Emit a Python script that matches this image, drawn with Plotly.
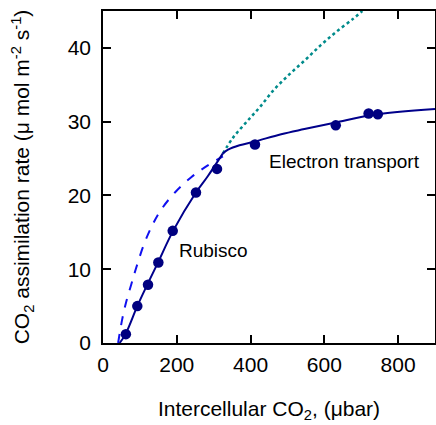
import plotly.graph_objects as go

# Measured data points
ci_obs = [62, 93, 122, 150, 189, 252, 309, 412, 631, 720, 745]
a_obs = [1.2, 5.0, 7.9, 10.9, 15.2, 20.4, 23.6, 26.9, 29.5, 31.1, 31.0]

# Solid fitted curve, Rubisco-limited part
ci_rub = [45, 60, 93, 120, 149, 190, 252, 284, 325]
a_rub = [0.0, 1.1, 5.0, 7.9, 10.9, 15.2, 20.4, 22.6, 25.7]

# Solid fitted curve, electron-transport-limited part
ci_et = [325, 339, 370, 411, 483, 546, 631, 731, 900]
a_et = [25.7, 26.2, 26.8, 27.3, 28.3, 29.0, 29.9, 30.9, 31.7]

# Dashed: electron-transport curve extended below transition
ci_j = [41, 52, 63, 77, 90, 112, 135, 158, 195, 240, 282, 325]
a_j = [0.0, 3.2, 5.6, 8.0, 10.2, 13.5, 16.1, 18.1, 20.4, 22.5, 24.0, 25.3]

# Dotted: Rubisco curve extended above transition
ci_c = [325, 352, 388, 424, 463, 505, 549, 591, 633, 677, 703]
a_c = [25.7, 27.8, 29.9, 31.9, 34.3, 36.4, 38.4, 40.4, 42.2, 43.9, 45.0]

x_ticks = [0, 200, 400, 600, 800]
y_ticks = [0, 10, 20, 30, 40]

FONT = "Liberation Sans, Arial, sans-serif"
NAVY = "#00008B"

fig = go.Figure()
fig.add_trace(go.Scatter(x=ci_c, y=a_c, mode="lines", line=dict(color="#008B8B", width=2.5, dash="dot"),
                         line_shape="spline"))
fig.add_trace(go.Scatter(x=ci_j, y=a_j, mode="lines", line=dict(color="#1010F0", width=2, dash="dash"),
                         line_shape="spline"))
fig.add_trace(go.Scatter(x=ci_rub, y=a_rub, mode="lines", line=dict(color=NAVY, width=2),
                         line_shape="spline"))
fig.add_trace(go.Scatter(x=ci_et, y=a_et, mode="lines", line=dict(color=NAVY, width=2),
                         line_shape="spline"))
fig.add_trace(go.Scatter(x=ci_obs, y=a_obs, mode="markers",
                         marker=dict(color="#000080", size=10.5, line=dict(width=0))))

fig.add_annotation(x=300, y=12.6, text="Rubisco", showarrow=False,
                   xanchor="center", yanchor="middle", font=dict(size=19, color="black", family=FONT))
fig.add_annotation(x=656, y=24.6, text="Electron transport", showarrow=False,
                   xanchor="center", yanchor="middle", font=dict(size=19, color="black", family=FONT))

axis_common = dict(showgrid=False, zeroline=False, showline=True, linecolor="black", linewidth=1.5,
                   mirror="ticks", ticks="inside", ticklen=8, tickwidth=1.5, tickcolor="black",
                   tickfont=dict(size=21, color="black", family=FONT))

fig.update_xaxes(range=[0, 900], tickvals=x_ticks, ticktext=[str(v) for v in x_ticks],
                 title=dict(text="Intercellular CO<sub>2</sub>, (μbar)", font=dict(size=21, color="black", family=FONT), standoff=26),
                 ticklabelstandoff=2, **axis_common)
fig.update_yaxes(range=[0, 45], tickvals=y_ticks, ticktext=[str(v) for v in y_ticks],
                 title=dict(text="CO<sub>2</sub> assimilation rate (μ mol m<sup>-2</sup> s<sup>-1</sup>)",
                            font=dict(size=21, color="black", family=FONT), standoff=32),
                 ticklabelstandoff=6, **axis_common)

fig.update_layout(width=436, height=425, margin=dict(l=103, r=1, t=11, b=82, autoexpand=False),
                  plot_bgcolor="white", paper_bgcolor="white", showlegend=False)

# remove the default page margin so the 436x425 figure fills the window exactly
fig.write_html("out.html", config={"displayModeBar": False},
               post_script="document.body.style.margin='0';document.body.style.overflow='hidden';")
